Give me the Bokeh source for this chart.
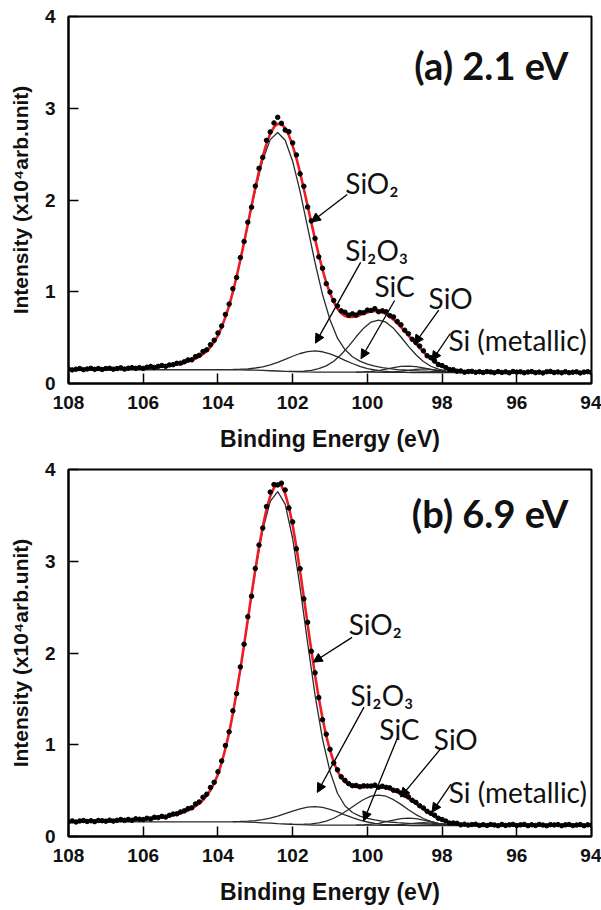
import numpy as np
from bokeh.plotting import figure
from bokeh.models import Range1d, FixedTicker, Label, Arrow, NormalHead
from bokeh.layouts import column
from bokeh.embed import file_html
from bokeh.resources import INLINE

# ---------------- data ----------------
# binding energy grid of the measured spectrum, 108.0 -> 94.0 eV, 0.1 eV step
energy = np.round(np.arange(1080, 939, -1) / 10.0, 1)

x_ticks = [108, 106, 104, 102, 100, 98, 96, 94]
y_ticks = [0, 1, 2, 3, 4]

# (a) 2.1 eV -- measured points
data_a = [
    0.158, 0.148, 0.156, 0.163, 0.151, 0.158, 0.166, 0.154, 0.163, 0.153, 0.163,
    0.166, 0.156, 0.163, 0.171, 0.157, 0.167, 0.173, 0.165, 0.173, 0.164,
    0.178, 0.186, 0.175, 0.187, 0.196, 0.187, 0.202, 0.205, 0.220, 0.222,
    0.237, 0.257, 0.258, 0.293, 0.307, 0.349, 0.367, 0.423, 0.472, 0.551,
    0.627, 0.753, 0.866, 1.033, 1.156, 1.372, 1.548, 1.758, 1.922, 2.152,
    2.345, 2.465, 2.650, 2.742, 2.840, 2.901, 2.836, 2.762, 2.745, 2.622,
    2.491, 2.285, 2.150, 1.923, 1.772, 1.581, 1.380, 1.256, 1.088, 0.996,
    0.904, 0.845, 0.792, 0.777, 0.745, 0.759, 0.746, 0.775, 0.772, 0.800,
    0.796, 0.816, 0.783, 0.792, 0.782, 0.740, 0.726, 0.677, 0.640, 0.581,
    0.543, 0.482, 0.447, 0.408, 0.356, 0.302, 0.282, 0.244, 0.206, 0.195,
    0.174, 0.152, 0.151, 0.134, 0.137, 0.123, 0.130, 0.133, 0.122, 0.129,
    0.120, 0.130, 0.126, 0.118, 0.130, 0.121, 0.127, 0.117, 0.131, 0.124,
    0.128, 0.117, 0.125, 0.130, 0.118, 0.124, 0.115, 0.128, 0.132, 0.119,
    0.126, 0.117, 0.128, 0.118, 0.123, 0.127, 0.115, 0.124, 0.129, 0.119,
]
# (a) fitted envelope (red)
fit_a = [
    0.154, 0.154, 0.154, 0.155, 0.155, 0.155, 0.156, 0.156, 0.157, 0.158, 0.159,
    0.160, 0.160, 0.161, 0.162, 0.163, 0.164, 0.165, 0.167, 0.169, 0.171,
    0.173, 0.176, 0.178, 0.181, 0.184, 0.189, 0.194, 0.201, 0.208, 0.216,
    0.227, 0.239, 0.254, 0.271, 0.293, 0.319, 0.355, 0.397, 0.452, 0.521,
    0.612, 0.723, 0.846, 0.998, 1.166, 1.347, 1.538, 1.738, 1.937, 2.132,
    2.315, 2.475, 2.615, 2.722, 2.795, 2.831, 2.826, 2.782, 2.705, 2.592,
    2.456, 2.295, 2.120, 1.938, 1.752, 1.571, 1.400, 1.241, 1.098, 0.986,
    0.889, 0.815, 0.767, 0.737, 0.725, 0.724, 0.731, 0.745, 0.762, 0.775,
    0.786, 0.791, 0.788, 0.777, 0.757, 0.730, 0.696, 0.657, 0.615, 0.571,
    0.523, 0.477, 0.432, 0.388, 0.346, 0.307, 0.270, 0.238, 0.210, 0.187,
    0.169, 0.156, 0.145, 0.137, 0.132, 0.129, 0.126, 0.125, 0.125, 0.124,
    0.124, 0.124, 0.124, 0.123, 0.123, 0.123, 0.123, 0.123, 0.123, 0.123,
    0.123, 0.123, 0.122, 0.122, 0.122, 0.122, 0.122, 0.122, 0.122, 0.122,
    0.122, 0.122, 0.121, 0.121, 0.121, 0.121, 0.121, 0.121, 0.121, 0.121,
]

# (b) 6.9 eV -- measured points
data_b = [
    0.159, 0.170, 0.158, 0.169, 0.174, 0.164, 0.171, 0.162, 0.175, 0.172, 0.167,
    0.178, 0.168, 0.177, 0.185, 0.176, 0.186, 0.177, 0.193, 0.188, 0.185,
    0.199, 0.192, 0.210, 0.206, 0.220, 0.212, 0.231, 0.245, 0.247, 0.268,
    0.280, 0.304, 0.313, 0.355, 0.377, 0.428, 0.461, 0.534, 0.591, 0.705,
    0.824, 0.992, 1.141, 1.370, 1.557, 1.848, 2.096, 2.395, 2.619, 2.922,
    3.177, 3.362, 3.596, 3.754, 3.836, 3.832, 3.851, 3.777, 3.581, 3.429,
    3.136, 2.919, 2.590, 2.334, 2.019, 1.784, 1.514, 1.273, 1.115, 0.950,
    0.802, 0.727, 0.651, 0.612, 0.576, 0.554, 0.557, 0.542, 0.552, 0.551,
    0.550, 0.560, 0.537, 0.548, 0.536, 0.530, 0.504, 0.499, 0.474, 0.451,
    0.432, 0.395, 0.372, 0.335, 0.311, 0.275, 0.253, 0.232, 0.199, 0.185,
    0.168, 0.146, 0.147, 0.144, 0.127, 0.134, 0.124, 0.130, 0.134, 0.121,
    0.129, 0.120, 0.131, 0.126, 0.118, 0.131, 0.121, 0.127, 0.132, 0.120,
    0.127, 0.132, 0.118, 0.128, 0.120, 0.132, 0.125, 0.117, 0.129, 0.126,
    0.130, 0.118, 0.127, 0.131, 0.119, 0.125, 0.130, 0.117, 0.127, 0.123,
]
fit_b = [
    0.165, 0.166, 0.166, 0.167, 0.167, 0.168, 0.168, 0.169, 0.170, 0.171, 0.172,
    0.173, 0.174, 0.175, 0.177, 0.179, 0.180, 0.182, 0.184, 0.186, 0.189,
    0.193, 0.196, 0.200, 0.204, 0.208, 0.215, 0.222, 0.231, 0.241, 0.252,
    0.268, 0.284, 0.305, 0.330, 0.359, 0.396, 0.446, 0.504, 0.581, 0.677,
    0.804, 0.957, 1.129, 1.340, 1.572, 1.823, 2.088, 2.365, 2.639, 2.907,
    3.157, 3.377, 3.566, 3.709, 3.801, 3.842, 3.821, 3.737, 3.591, 3.394,
    3.156, 2.889, 2.605, 2.314, 2.029, 1.759, 1.509, 1.288, 1.095, 0.940,
    0.812, 0.712, 0.641, 0.592, 0.564, 0.546, 0.539, 0.538, 0.538, 0.541,
    0.544, 0.545, 0.541, 0.536, 0.528, 0.516, 0.500, 0.483, 0.464, 0.439,
    0.414, 0.385, 0.357, 0.329, 0.299, 0.271, 0.243, 0.218, 0.195, 0.177,
    0.162, 0.149, 0.142, 0.136, 0.131, 0.128, 0.126, 0.125, 0.125, 0.124,
    0.124, 0.124, 0.124, 0.124, 0.123, 0.123, 0.123, 0.123, 0.123, 0.123,
    0.123, 0.123, 0.122, 0.122, 0.122, 0.122, 0.122, 0.122, 0.122, 0.122,
    0.122, 0.121, 0.121, 0.121, 0.121, 0.121, 0.121, 0.121, 0.121, 0.121,
]

# component energies
e_sio2 = [108.0, 107.0, 106.0, 105.5] + list(np.round(np.arange(1050, 969, -2) / 10.0, 1)) + [96.0, 95.0, 94.0]
e_si2o3 = list(np.round(np.arange(1036, 989, -2) / 10.0, 1))   # 103.6 -> 99.0
e_sic = list(np.round(np.arange(1021, 972, -2) / 10.0, 1))     # 102.1 -> 97.3
e_sio = list(np.round(np.arange(1003, 974, -2) / 10.0, 1))     # 100.3 -> 97.5
e_sim = list(np.round(np.arange(995, 974, -2) / 10.0, 1))      # 99.5 -> 97.5
e_bg = [108.0, 104.0, 103.6, 103.4, 103.2, 103.0, 102.8, 102.6, 102.4, 102.2,
        102.0, 101.8, 101.6, 101.4, 101.2, 101.0, 100.0, 99.5, 99.0, 98.8, 94.0]

# (a) components (intensity incl. background)
sio2_a = [0.154, 0.159, 0.171, 0.184,
          0.216, 0.239, 0.271, 0.319, 0.397, 0.521, 0.722, 0.995, 1.340, 1.725,
          2.108, 2.435, 2.658, 2.736, 2.652, 2.423, 2.091, 1.704, 1.316, 0.969,
          0.695, 0.494, 0.370, 0.292, 0.244, 0.212, 0.189, 0.173, 0.161, 0.152,
          0.147, 0.141, 0.137, 0.134, 0.132, 0.130, 0.129, 0.127, 0.126, 0.125, 0.124,
          0.123, 0.122, 0.121]
si2o3_a = [0.153, 0.156, 0.160, 0.169, 0.182, 0.203, 0.231, 0.263, 0.297, 0.327, 0.348, 0.355,
           0.346, 0.322, 0.290, 0.253, 0.218, 0.187, 0.163, 0.147, 0.135, 0.129, 0.124, 0.122]
sic_a = [0.133, 0.132, 0.135, 0.143, 0.161, 0.192, 0.243, 0.316, 0.408, 0.509, 0.603, 0.669, 0.692,
         0.668, 0.601, 0.507, 0.405, 0.313, 0.240, 0.188, 0.156, 0.137, 0.128, 0.123, 0.121]
sio_a = [0.124, 0.127, 0.132, 0.141, 0.156, 0.172, 0.186, 0.190, 0.185, 0.171, 0.154, 0.139, 0.129, 0.124, 0.121]
sim_a = [0.124, 0.126, 0.134, 0.144, 0.155, 0.160, 0.155, 0.144, 0.133, 0.125, 0.122]
bg_a = [0.150, 0.150, 0.150, 0.149, 0.147, 0.145, 0.142, 0.139, 0.136, 0.133,
        0.130, 0.128, 0.126, 0.125, 0.124, 0.123, 0.123, 0.122, 0.1205, 0.120, 0.120]

# (b) components
sio2_b = [0.165, 0.172, 0.189, 0.208,
          0.252, 0.284, 0.330, 0.396, 0.504, 0.677, 0.956, 1.337, 1.817, 2.354,
          2.886, 3.342, 3.653, 3.760, 3.623, 3.248, 2.712, 2.113, 1.542, 1.062,
          0.708, 0.471, 0.335, 0.262, 0.223, 0.198, 0.181, 0.168, 0.158, 0.151,
          0.146, 0.140, 0.137, 0.134, 0.132, 0.130, 0.128, 0.127, 0.126, 0.125, 0.124,
          0.123, 0.122, 0.121]
si2o3_b = [0.163, 0.165, 0.168, 0.174, 0.184, 0.201, 0.222, 0.249, 0.277, 0.302, 0.320, 0.325,
           0.317, 0.296, 0.268, 0.236, 0.205, 0.179, 0.158, 0.144, 0.133, 0.128, 0.124, 0.122]
sic_b = [0.134, 0.132, 0.134, 0.138, 0.148, 0.168, 0.199, 0.242, 0.295, 0.352, 0.403, 0.440, 0.452,
         0.439, 0.401, 0.350, 0.292, 0.239, 0.196, 0.165, 0.144, 0.132, 0.126, 0.122, 0.121]
sio_b = [0.125, 0.127, 0.134, 0.144, 0.161, 0.179, 0.195, 0.200, 0.194, 0.178, 0.159, 0.142, 0.131, 0.124, 0.122]
sim_b = [0.123, 0.125, 0.131, 0.138, 0.146, 0.150, 0.146, 0.138, 0.130, 0.124, 0.121]
bg_b = [0.160, 0.160, 0.160, 0.159, 0.157, 0.153, 0.149, 0.145, 0.140, 0.136,
        0.132, 0.129, 0.127, 0.125, 0.124, 0.123, 0.123, 0.122, 0.1205, 0.120, 0.120]

# annotation texts: (text, energy, intensity) and arrows (start -> tip)
labels_a = [("SiO\u2082", 100.59, 2.18), ("Si\u2082O\u2083", 100.59, 1.45), ("SiC", 99.81, 1.06),
            ("SiO", 98.36, 0.93), ("Si (metallic)", 97.83, 0.47)]
arrows_a = [(100.54, 2.06, 101.50, 1.76), (100.18, 1.32, 101.39, 0.44), (99.27, 0.905, 100.17, 0.27),
            (98.09, 0.80, 98.74, 0.43), (97.78, 0.545, 98.27, 0.25)]
labels_b = [("SiO\u2082", 100.50, 2.32), ("Si\u2082O\u2083", 100.45, 1.54), ("SiC", 99.68, 1.17),
            ("SiO", 98.22, 1.06), ("Si (metallic)", 97.82, 0.48)]
arrows_b = [(100.41, 2.17, 101.45, 1.90), (100.09, 1.41, 101.34, 0.48), (99.19, 1.08, 100.10, 0.17),
            (98.04, 0.955, 99.11, 0.43), (97.76, 0.57, 98.27, 0.265)]

RED = "#ee1c24"
COMP = "#2a2a2a"


def panel(height, top, bottom, title_standoff, data, fit, comps, bg, labels, arrows, tag, tag_y):
    p = figure(width=601, height=height, x_range=Range1d(108, 94), y_range=Range1d(0, 4),
               output_backend="svg", toolbar_location=None,
               min_border_left=68, min_border_right=10, min_border_top=top, min_border_bottom=bottom)
    p.xgrid.visible = False
    p.ygrid.visible = False
    p.outline_line_color = "black"
    p.outline_line_width = 2
    p.outline_line_alpha = 1.0

    p.xaxis.ticker = FixedTicker(ticks=x_ticks, minor_ticks=[])
    p.yaxis.ticker = FixedTicker(ticks=y_ticks, minor_ticks=[])
    for ax in (p.xaxis, p.yaxis):
        ax.axis_line_width = 2
        ax.axis_line_color = "black"
        ax.major_tick_in = 10
        ax.major_tick_out = 0
        ax.major_tick_line_width = 1.5
        ax.major_tick_line_color = "black"
        ax.minor_tick_in = 0
        ax.minor_tick_out = 0
        ax.major_label_text_font = "Liberation Sans"
        ax.major_label_text_font_style = "bold"
        ax.major_label_text_font_size = "19px"
        ax.major_label_text_color = "#111111"
        ax.axis_label_text_font = "Liberation Sans"
        ax.axis_label_text_font_style = "bold"
        ax.axis_label_text_color = "#111111"
    p.xaxis.axis_label_text_font_size = "23px"
    p.yaxis.axis_label_text_font_size = "21px"
    p.xaxis.major_label_standoff = 12
    p.yaxis.major_label_standoff = 13
    p.xaxis.axis_label = "Binding Energy (eV)"
    p.yaxis.axis_label = "Intensity (x10\u2074arb.unit)"
    p.xaxis.axis_label_standoff = title_standoff
    p.yaxis.axis_label_standoff = 10

    # background and components
    p.line(e_bg, bg, line_color=COMP, line_width=1.3)
    for ex, ys in comps:
        p.line(ex, ys, line_color=COMP, line_width=1.3)
    # fitted envelope
    p.line(energy, fit, line_color=RED, line_width=2.6)
    # measured points
    p.scatter(energy, data, marker="circle", size=4.5, color="black")

    for (txt, lx, ly) in labels:
        p.add_layout(Label(x=lx, y=ly, text=txt, text_font="Lato", text_font_size="28px",
                           text_align="left", text_baseline="middle", text_color="#111111"))
    for (x0, y0, x1, y1) in arrows:
        p.add_layout(Arrow(x_start=x0, y_start=y0, x_end=x1, y_end=y1, line_width=1.3,
                           line_color="black",
                           end=NormalHead(size=9, fill_color="black", line_color="black", line_width=1)))
    p.add_layout(Label(x=94.62, y=tag_y, text=tag, text_font="Lato", text_font_style="bold",
                       text_font_size="38px", text_align="right", text_baseline="middle",
                       text_color="#111111"))
    return p


comps_a = [(e_sio2, sio2_a), (e_si2o3, si2o3_a), (e_sic, sic_a), (e_sio, sio_a), (e_sim, sim_a)]
comps_b = [(e_sio2, sio2_b), (e_si2o3, si2o3_b), (e_sic, sic_b), (e_sio, sio_b), (e_sim, sim_b)]

# page has no body margin: frame (a) 16..383, frame (b) 469..836, plot x 68..591
pa = panel(455, 16, 72, 14, data_a, fit_a, comps_a, bg_a, labels_a, arrows_a, "(a) 2.1 eV", 3.47)
pb = panel(455, 14, 74, 14, data_b, fit_b, comps_b, bg_b, labels_b, arrows_b, "(b) 6.9 eV", 3.53)

layout = column(pa, pb, spacing=0)
open("out.html", "w").write(file_html(layout, INLINE))
